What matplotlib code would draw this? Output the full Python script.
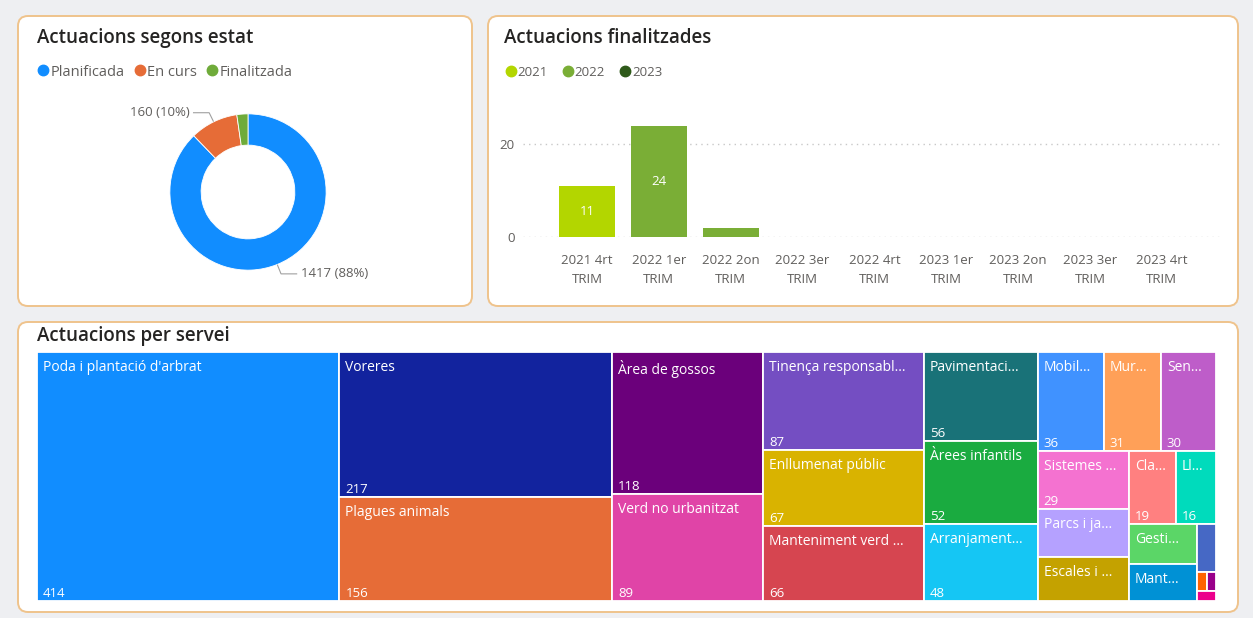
import math
import matplotlib
matplotlib.use('Agg')
import matplotlib.pyplot as plt
from matplotlib.patches import FancyBboxPatch, Rectangle
from matplotlib.lines import Line2D
from matplotlib.legend import Legend

plt.rcParams['font.family'] = ['Open Sans', 'DejaVu Sans']

# --- data ---
estat_labels = ['Planificada', 'En curs', 'Finalitzada']
estat_values = [1417, 160, 37]
estat_colors = ['#118DFF', '#E66C37', '#6FAB3A']

trim_labels = ['2021 4rt\nTRIM', '2022 1er\nTRIM', '2022 2on\nTRIM', '2022 3er\nTRIM',
               '2022 4rt\nTRIM', '2023 1er\nTRIM', '2023 2on\nTRIM', '2023 3er\nTRIM',
               '2023 4rt\nTRIM']
trim_values = [11, 24, 2, 0, 0, 0, 0, 0, 0]
years = ['2021', '2022', '2023']
year_colors = ['#B3D600', '#7AAE36', '#2F5A1A']

servei_labels = ['Poda i plantació d\'arbrat', 'Voreres', 'Plagues animals', 'Àrea de gossos',
                 'Verd no urbanitzat', 'Tinença responsabl...', 'Enllumenat públic',
                 'Manteniment verd ...', 'Pavimentaci...', 'Àrees infantils', 'Arranjament...',
                 'Mobil...', 'Mur...', 'Sen...', 'Sistemes ...', 'Parcs i ja...', 'Escales i ...',
                 'Cla...', 'Ll...', 'Gesti...', 'Mant...', '', '', '', '']
servei_values = [414, 217, 156, 118, 89, 87, 67, 66, 56, 52, 48, 36, 31, 30, 29, 24, 22,
                 19, 16, 15, 14, 5, 1, 1, 1]
servei_colors = ['#118DFF', '#12239E', '#E66C37', '#6B007B', '#E044A7', '#744EC2', '#D9B300',
                 '#D64550', '#197278', '#1AAB40', '#15C6F4', '#4092FF', '#FFA058', '#BE5DC9',
                 '#F472D0', '#B5A1FF', '#C4A200', '#FF8080', '#00DBBC', '#5BD667', '#0091D5',
                 '#4668C5', '#FF6300', '#99008A', '#EC008C']

W, H = 1253, 618
TITLE_C = '#252423'
TEXT_C = '#605E5C'


def squarify(values, x0, y0, x1, y1, ratio=(1 + 5 ** 0.5) / 2):
    # same approach as d3.treemapSquarify
    rects = []
    n = len(values)
    i0 = i1 = 0
    value = float(sum(values))
    while i0 < n:
        dx, dy = x1 - x0, y1 - y0
        sum_v = values[i1]
        i1 += 1
        min_v = max_v = sum_v
        alpha = max(dy / dx, dx / dy) / (value * ratio)
        beta = sum_v * sum_v * alpha
        min_ratio = max(max_v / beta, beta / min_v)
        while i1 < n:
            nv = values[i1]
            s = sum_v + nv
            mn, mx = min(min_v, nv), max(max_v, nv)
            beta = s * s * alpha
            new_ratio = max(mx / beta, beta / mn)
            if new_ratio > min_ratio:
                break
            sum_v, min_v, max_v, min_ratio = s, mn, mx, new_ratio
            i1 += 1
        row = values[i0:i1]
        if dx < dy:
            ny = y0 + dy * sum_v / value
            xx = x0
            for v in row:
                w = dx * v / sum_v
                rects.append((xx, y0, w, ny - y0))
                xx += w
            y0 = ny
        else:
            nx = x0 + dx * sum_v / value
            yy = y0
            for v in row:
                h = dy * v / sum_v
                rects.append((x0, yy, nx - x0, h))
                yy += h
            x0 = nx
        value -= sum_v
        i0 = i1
    return rects


def px_axes(fig, x, y, w, h):
    return fig.add_axes([x / W, 1 - (y + h) / H, w / W, h / H])


def dot_legend(ax, colors, labels, x, y, size, spacing):
    handles = [Line2D([], [], marker='o', linestyle='', color=c, markersize=7.5)
               for c in colors]
    leg = Legend(ax, handles, labels, loc='center left', bbox_to_anchor=(x, y),
                 bbox_transform=ax.transData, ncol=len(labels), frameon=False,
                 handletextpad=0.0, columnspacing=spacing, handlelength=1.0,
                 fontsize=size, labelcolor=TEXT_C, borderpad=0, borderaxespad=0)
    ax.add_artist(leg)


fig = plt.figure(figsize=(W / 100, H / 100), dpi=100)
fig.patch.set_facecolor('#EEEFF2')

bg = fig.add_axes([0, 0, 1, 1])
bg.set_xlim(0, W)
bg.set_ylim(H, 0)
bg.axis('off')
for (x, y, w, h) in [(18, 16, 454, 290), (488, 16, 750, 290), (18, 322, 1220, 290)]:
    bg.add_patch(FancyBboxPatch((x, y), w, h, boxstyle='round,pad=0,rounding_size=10',
                                facecolor='white', edgecolor='#EFC38C', linewidth=1.4))

for tx, ty, t in [(37, 38, 'Actuacions segons estat'), (504, 38, 'Actuacions finalitzades'),
                  (37, 336, 'Actuacions per servei')]:
    bg.text(tx, ty, t, fontsize=13.5, fontweight='semibold', color=TITLE_C,
            va='center', ha='left')

dot_legend(bg, estat_colors, estat_labels, 36, 72, 10.5, 0.55)
dot_legend(bg, year_colors, years, 504, 72, 9.5, 1.05)

# --- donut ---
ax1 = px_axes(fig, 148, 92, 200, 200)
total = sum(estat_values)
wedges, _ = ax1.pie(estat_values, colors=estat_colors, startangle=90, counterclock=False,
                    radius=1, wedgeprops=dict(width=0.4, edgecolor='white', linewidth=0.6))
ax1.set_xlim(-1.28, 1.28)
ax1.set_ylim(-1.28, 1.28)
ax1.set_aspect('equal')
ax1.axis('off')
for wdg, v in zip(wedges, estat_values):
    if v / total < 0.05:
        continue
    mid = math.radians((wdg.theta1 + wdg.theta2) / 2)
    cx, cy = math.cos(mid), math.sin(mid)
    ex, ey = 1.13 * cx, 1.13 * cy
    side = 1 if cx > 0 else -1
    hx = ex + side * 0.2
    ax1.plot([cx * 1.01, ex, hx], [cy * 1.01, ey, ey], color='#A0A0A0', lw=0.8,
             clip_on=False)
    ax1.text(hx + side * 0.05, ey, f'{v} ({v / total:.0%})', fontsize=9.5, color=TEXT_C,
             ha='left' if side > 0 else 'right', va='center', clip_on=False)

# --- bars ---
ax2 = px_axes(fig, 523, 100, 697, 137)
xs = list(range(len(trim_labels)))
bar_colors = [year_colors[years.index(lbl.split()[0])] for lbl in trim_labels]
bars = ax2.bar(xs, trim_values, width=0.78, color=bar_colors, zorder=2)
for b, v in zip(bars, trim_values):
    if v >= 5:
        ax2.text(b.get_x() + b.get_width() / 2, v / 2, str(v), color='white', fontsize=9.5,
                 ha='center', va='center')
ax2.set_xlim(-0.89, 8.81)
ax2.set_ylim(0, 29.5)
ax2.set_yticks([0, 20])
ax2.set_xticks(xs)
ax2.set_xticklabels(trim_labels, fontsize=9.5, color=TEXT_C, linespacing=1.6)
ax2.tick_params(axis='y', length=0, pad=6, labelsize=9.5, labelcolor=TEXT_C)
ax2.tick_params(axis='x', length=0, pad=12)
ax2.yaxis.grid(True, linestyle=(0, (1, 3)), color='#C8C8C8', lw=1)
ax2.set_axisbelow(True)
for s in ax2.spines.values():
    s.set_visible(False)
ax2.patch.set_alpha(0)

# --- treemap ---
TW, TH = 1179, 249
ax3 = px_axes(fig, 37, 352, TW, TH)
ax3.set_xlim(0, TW)
ax3.set_ylim(TH, 0)
ax3.axis('off')
rects = squarify(servei_values, 0, 0, TW, TH)
for (x, y, w, h), lbl, v, c in zip(rects, servei_labels, servei_values, servei_colors):
    ax3.add_patch(Rectangle((x, y), w, h, facecolor=c, edgecolor='white', linewidth=1.3))
    if lbl and w > 30 and h > 30:
        ax3.text(x + 6, y + 8, lbl, color='white', fontsize=10, ha='left', va='top')
    if lbl and h > 55:
        ax3.text(x + 6, y + h - 4, str(v), color='white', fontsize=9.5, ha='left',
                 va='baseline')

fig.savefig('out.png', dpi=100, facecolor=fig.get_facecolor())
